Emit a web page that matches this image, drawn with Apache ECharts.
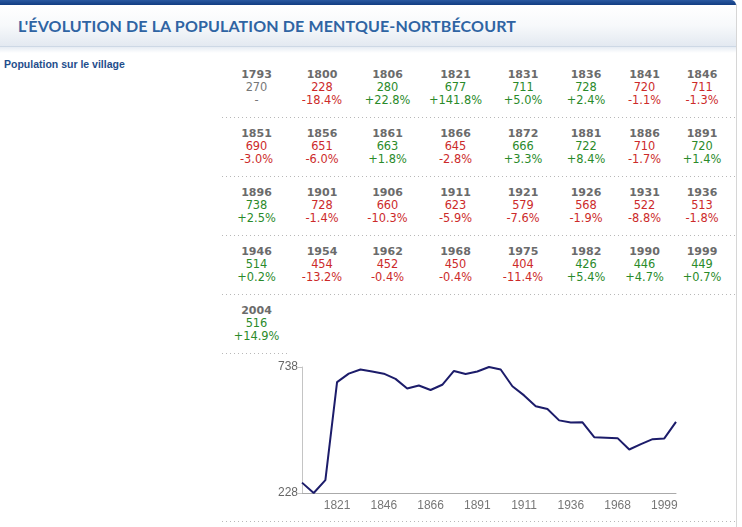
<!DOCTYPE html>
<html>
<head>
<meta charset="utf-8">
<script src="https://cdn.jsdelivr.net/npm/echarts@6/dist/echarts.min.js"></script>
<style>
  html, body { margin:0; padding:0; background:#fff; width:742px; height:527px; overflow:hidden; }
  #page { position:relative; width:742px; height:527px; }
  #topbar { position:absolute; left:0; top:0; width:736px; height:5px; background:linear-gradient(#2a58a0,#123d82); border-top-right-radius:8px; }
  #head { position:absolute; left:0; top:5px; width:736px; height:41px; background:linear-gradient(#ffffff 0%, #f7f9fb 50%, #e3e9f1 100%); border-bottom:1px solid #cdd8e5; }
  #shadow { position:absolute; left:0; top:47px; width:736px; height:6px; background:linear-gradient(#e6ecf3,#ffffff); }
  #title { position:absolute; left:18px; top:16px; font-family:Lato, "Liberation Sans", Arial, sans-serif; font-weight:bold; font-size:16px; letter-spacing:0.14px; color:#2f64a3; white-space:nowrap; }
  #rborder { position:absolute; left:736px; top:4px; width:1px; height:523px; background:#d6d6d6; }
  #sub { position:absolute; left:4px; top:58px; font-family:"Liberation Sans", Arial, sans-serif; font-weight:bold; font-size:10.5px; color:#1f4e8c; white-space:nowrap; }
  .cell { position:absolute; text-align:center; font-family:"DejaVu Sans", Verdana, sans-serif; font-size:11px; line-height:13px; }
  .yr { font-weight:bold; color:#6b6b6b; }
  .val { font-size:11.4px; }
  .neu { color:#777; }
  .up { color:#2a8a2a; }
  .dn { color:#cc2a2a; }
  .dots { position:absolute; height:1px; background:repeating-linear-gradient(to right, #b8b8b8 0 1px, transparent 1px 4px); }
  #chart { position:absolute; left:222px; top:355px; width:514px; height:166px; }
</style>
</head>
<body>
<div id="page">
  <div id="head"></div>
  <div id="shadow"></div>
  <div id="topbar"></div>
  <div id="rborder"></div>
  <div id="title">L'ÉVOLUTION DE LA POPULATION DE MENTQUE-NORTBÉCOURT</div>
  <div id="sub">Population sur le village</div>
  <div id="table"></div>
  <div id="chart"></div>
</div>
<script>
// ---- data ----
var years = [1793,1800,1806,1821,1831,1836,1841,1846,1851,1856,1861,1866,1872,1881,1886,1891,1896,1901,1906,1911,1921,1926,1931,1936,1946,1954,1962,1968,1975,1982,1990,1999,2004];
var population = [270,228,280,677,711,728,720,711,690,651,663,645,666,722,710,720,738,728,660,623,579,568,522,513,514,454,452,450,404,426,446,449,516];
var changes = ['-','-18.4%','+22.8%','+141.8%','+5.0%','+2.4%','-1.1%','-1.3%','-3.0%','-6.0%','+1.8%','-2.8%','+3.3%','+8.4%','-1.7%','+1.4%','+2.5%','-1.4%','-10.3%','-5.9%','-7.6%','-1.9%','-8.8%','-1.8%','+0.2%','-13.2%','-0.4%','-0.4%','-11.4%','+5.4%','+4.7%','+0.7%','+14.9%'];
var yAxisLabels = [228, 738];

// ---- table layout ----
var colEdges = [223, 290, 354, 421, 490, 556, 616, 673, 731];
var rowTop = 58, rowH = 59, perRow = 8;
var table = document.getElementById('table');
var html = '';
for (var i = 0; i < years.length; i++) {
  var r = Math.floor(i / perRow), c = i % perRow;
  var x0 = colEdges[c], w = colEdges[c + 1] - colEdges[c];
  var y0 = rowTop + r * rowH + 10;
  var cls = changes[i] === '-' ? 'neu' : (changes[i].charAt(0) === '+' ? 'up' : 'dn');
  html += '<div class="cell" style="left:' + x0 + 'px;top:' + y0 + 'px;width:' + w + 'px">' +
    '<div class="yr">' + years[i] + '</div>' +
    '<div class="val ' + cls + '">' + population[i] + '</div>' +
    '<div class="val ' + cls + '">' + changes[i] + '</div></div>';
}
var nRows = Math.ceil(years.length / perRow);
for (var r2 = 0; r2 < nRows; r2++) {
  var full = (r2 + 1) * perRow <= years.length;
  var right = full ? 736 : colEdges[years.length - r2 * perRow];
  html += '<div class="dots" style="left:222px;top:' + (rowTop + (r2 + 1) * rowH) + 'px;width:' + (right - 222) + 'px"></div>';
}
html += '<div class="dots" style="left:222px;top:521px;width:514px"></div>';
table.innerHTML = html;

// ---- chart ----
var chart = echarts.init(document.getElementById('chart'), null, { renderer: 'canvas' });
chart.setOption({
  animation: false,
  grid: { left: 80, right: 60, top: 12, bottom: 28 },
  xAxis: {
    type: 'category',
    data: years.map(String),
    boundaryGap: false,
    axisLine: { lineStyle: { color: '#aaaaaa', width: 1 } },
    axisTick: { show: false },
    axisLabel: {
      interval: function (index) { return index % 4 === 3; },
      color: '#777', fontSize: 12, fontFamily: 'Liberation Sans, Arial, sans-serif', margin: 7
    },
    splitLine: { show: false }
  },
  yAxis: {
    type: 'value',
    min: yAxisLabels[0],
    max: yAxisLabels[1],
    interval: yAxisLabels[1] - yAxisLabels[0],
    axisLine: { show: true, lineStyle: { color: '#c4c4c4', width: 1 } },
    axisTick: { show: true, length: 4, lineStyle: { color: '#c4c4c4' } },
    axisLabel: { color: '#666', fontSize: 12, fontFamily: 'Liberation Sans, Arial, sans-serif', margin: 4 },
    splitLine: { show: false }
  },
  series: [{
    type: 'line',
    data: population,
    showSymbol: false,
    symbol: 'none',
    lineStyle: { color: '#1c1c6a', width: 2 },
    itemStyle: { color: '#1c1c6a' }
  }]
});
</script>
</body>
</html>
